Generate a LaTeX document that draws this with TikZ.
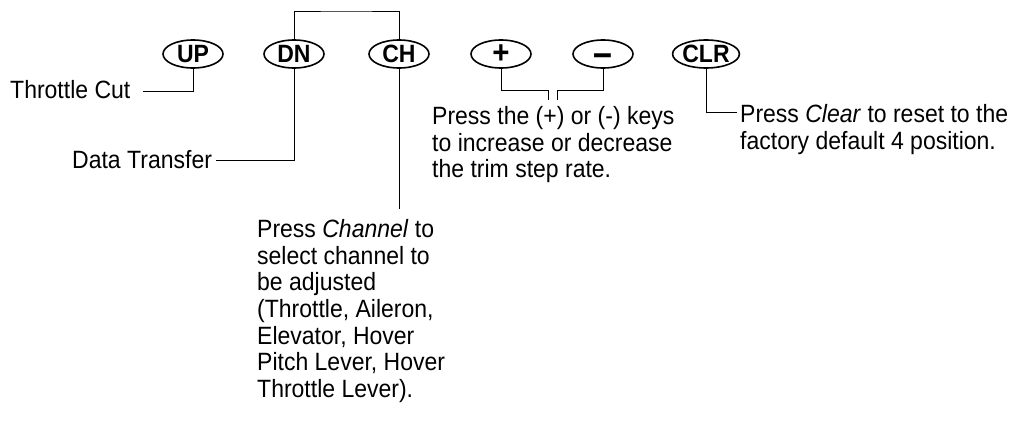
\documentclass[tikz,border=0pt]{standalone}
\usepackage{fontspec}
\setmainfont[FakeStretch=0.92]{Liberation Sans}
\usetikzlibrary{shapes.geometric}
\begin{document}
\begin{tikzpicture}[x=1pt,y=-1pt,
  key/.style={draw, ellipse, line width=1.6pt, minimum width=60pt, minimum height=28pt, inner sep=0pt, font=\fontsize{25pt}{25pt}\selectfont\bfseries},
  bigkey/.style={key, font=\fontsize{32pt}{32pt}\selectfont\bfseries},
  lbl/.style={inner sep=0pt, font=\fontsize{25pt}{26.7pt}\selectfont, align=left},
  conn/.style={line width=0.9pt}]
\useasboundingbox (0,0) rectangle (1013,431);
% keys
\node[key] (up) at (193,54) {UP};
\node[key] (dn) at (294,54) {DN};
\node[key] (ch) at (399,54) {CH};
\node[bigkey] (plus) at (501,54) {+};
\node[bigkey] (minus) at (603,54) {\vphantom{+}\smash{\raisebox{-3pt}{\scalebox{1.15}[1.25]{–}}}};
\node[key] (clr) at (706,54) {CLR};
% labels
\node[lbl, anchor=base west] (tc) at (10,98) {Throttle Cut};
\node[lbl, anchor=base west] (dt) at (72,168) {Data Transfer};
\node[lbl, anchor=north west] (chtext) at (257,219) {Press \textit{Channel} to\\select channel to\\be adjusted\\(Throttle, Aileron,\\Elevator, Hover\\Pitch Lever, Hover\\Throttle Lever).};
\node[lbl, anchor=north west] (pmtext) at (432,106) {Press the (+) or (-) keys\\to increase or decrease\\the trim step rate.};
\node[lbl, anchor=north west] (clrtext) at (740,104) {Press \textit{Clear} to reset to the\\factory default 4 position.};
% connector points
\coordinate (tce) at (143,91);
\coordinate (dte) at (216,160);
\coordinate (topc) at (346,11);
\coordinate (che) at (399,209);
\coordinate (pa) at (548,90);
\coordinate (pb) at (548,100);
\coordinate (ma) at (557,90);
\coordinate (mb) at (557,100);
\coordinate (clre) at (737,112);
% connectors
\draw[conn] (up.south) |- (tce);
\draw[conn] (dn.south) |- (dte);
\draw[conn] (dn.north) |- (topc) -| (ch.north);
\draw[conn] (ch.south) -- (che);
\draw[conn] (plus.south) |- (pa) -- (pb);
\draw[conn] (minus.south) |- (ma) -- (mb);
\draw[conn] (clr.south) |- (clre);
\end{tikzpicture}
\end{document}
